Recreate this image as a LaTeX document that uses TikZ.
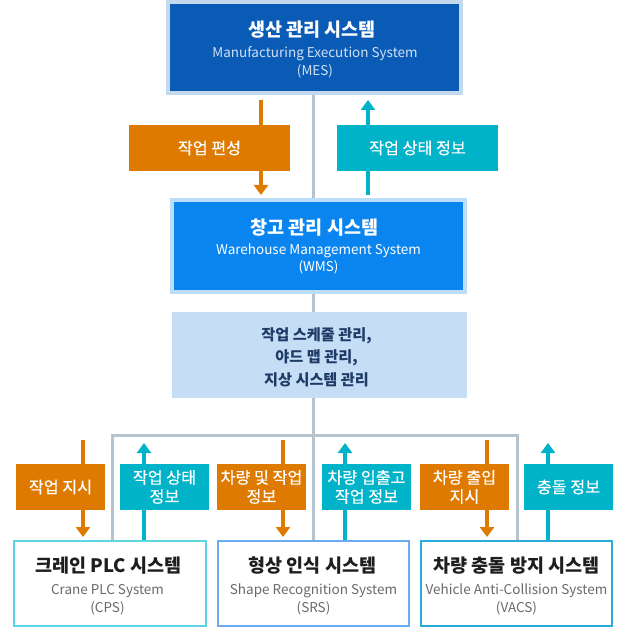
\documentclass[tikz,border=0pt]{standalone}
\usepackage{fontspec}
\setmainfont{Noto Sans CJK KR}
\usetikzlibrary{arrows.meta}
\definecolor{mesblue}{HTML}{0A5BB5}
\definecolor{mesedge}{HTML}{C5D9EC}
\definecolor{messub}{HTML}{CFE0F4}
\definecolor{wmsblue}{HTML}{0A85F0}
\definecolor{wmsedge}{HTML}{BCDDF8}
\definecolor{lightbox}{HTML}{C5DEF5}
\definecolor{navy}{HTML}{1E3A66}
\definecolor{orangeA}{HTML}{DF7A00}
\definecolor{tealA}{HTML}{00B3C9}
\definecolor{busgray}{HTML}{B5C3CE}
\definecolor{cpsedge}{HTML}{5CD6E2}
\definecolor{srsedge}{HTML}{6AABF2}
\definecolor{vacsedge}{HTML}{2AABDA}
\definecolor{subgray}{HTML}{6A6A6A}
\definecolor{ttlblack}{HTML}{1E1E1E}
\begin{document}
\begin{tikzpicture}[x=1pt,y=-1pt,
  sysbox/.style={rectangle,inner sep=0pt,minimum width=#1},
  topbox/.style={sysbox=293pt,minimum height=91pt,line width=4pt},
  botbox/.style={sysbox=191pt,minimum height=85pt,line width=2.5pt,draw,fill=white},
  lbl/.style={rectangle,inner sep=0pt,minimum height=46pt,text=white,align=center,
    font=\fontsize{16.2}{19}\selectfont\addfontfeature{FakeBold=0.4}},
  olbl/.style={lbl,fill=orangeA},
  tlbl/.style={lbl,fill=tealA},
  ttl/.style={anchor=base,font=\fontsize{18.5}{20}\selectfont\bfseries},
  sub/.style={anchor=base,font=\fontsize{13.5}{16}\selectfont},
  mline/.style={anchor=base,text=navy,font=\fontsize{15.2}{20}\selectfont\bfseries},
  bus/.style={draw=busgray,line width=3pt},
  oarr/.style={draw=orangeA,line width=4pt,-{Triangle[width=14pt,length=10pt]}},
  tarr/.style={draw=tealA,line width=4pt,-{Triangle[width=14pt,length=10pt]}},
]
\useasboundingbox (0,0) rectangle (628,628);

% bus lines
\coordinate (busL) at (112.5,435);
\coordinate (busR) at (517,435);
\coordinate (busLb) at (112.5,541);
\coordinate (busRb) at (517,541);
\coordinate (midtop) at (313,93);
\coordinate (midbot) at (313,541);
\draw[bus] (midtop) -- (midbot);
\draw[bus] (busLb) -- (busL) -- (busR) -- (busRb);

% arrow end points
\coordinate (a1s) at (261,100);  \coordinate (a1e) at (261,195);
\coordinate (a2s) at (368,195);  \coordinate (a2e) at (368,100);
\coordinate (b1s) at (83,440);   \coordinate (b1e) at (83,537);
\coordinate (b2s) at (144,540);  \coordinate (b2e) at (144,443);
\coordinate (b3s) at (283,440);  \coordinate (b3e) at (283,537);
\coordinate (b4s) at (345,540);  \coordinate (b4e) at (345,443);
\coordinate (b5s) at (487,440);  \coordinate (b5e) at (487,537);
\coordinate (b6s) at (548,540);  \coordinate (b6e) at (548,443);
\draw[oarr] (a1s) -- (a1e);
\draw[tarr] (a2s) -- (a2e);
\draw[oarr] (b1s) -- (b1e);
\draw[tarr] (b2s) -- (b2e);
\draw[oarr] (b3s) -- (b3e);
\draw[tarr] (b4s) -- (b4e);
\draw[oarr] (b5s) -- (b5e);
\draw[tarr] (b6s) -- (b6e);

% top systems
\node[topbox,draw=mesedge,fill=mesblue] (mes) at (314.5,47.5) {};
\node[ttl,text=white] (mest) at (312,37) {생산 관리 시스템};
\node[sub,text=messub] (mess) at (315,58) {Manufacturing Execution System};
\node[sub,text=messub] (mesa) at (315,76) {(MES)};

\node[topbox,draw=wmsedge,fill=wmsblue] (wms) at (318.5,246) {};
\node[ttl,text=white] (wmst) at (314.5,234) {창고 관리 시스템};
\node[sub,text=white] (wmss) at (318.5,254.5) {Warehouse Management System};
\node[sub,text=white] (wmsa) at (318.5,271.5) {(WMS)};

\node[rectangle,fill=lightbox,minimum width=295pt,minimum height=86pt,inner sep=0pt] (mgmt) at (319.5,355) {};
\node[mline] (m1) at (316.5,340) {작업 스케줄 관리,};
\node[mline] (m2) at (316.5,362.5) {야드 맵 관리,};
\node[mline] (m3) at (316.5,385) {지상 시스템 관리};

% label boxes (top)
\node[olbl,minimum width=161pt] (l1) at (209.5,148) {작업 편성};
\node[tlbl,minimum width=161pt] (l2) at (417.5,148) {작업 상태 정보};

% label boxes (bottom)
\node[olbl,minimum width=89pt] (k1) at (60.5,487) {작업 지시};
\node[tlbl,minimum width=89pt] (k2) at (164.5,487) {작업 상태\\정보};
\node[olbl,minimum width=89pt] (k3) at (261.5,487) {차량 및 작업\\정보};
\node[tlbl,minimum width=89pt] (k4) at (366.5,487) {차량 입출고\\작업 정보};
\node[olbl,minimum width=89pt] (k5) at (464.5,487) {차량 출입\\지시};
\node[tlbl,minimum width=89pt] (k6) at (568.5,487) {충돌 정보};

% bottom systems
\node[botbox,draw=cpsedge,minimum width=192pt] (cps) at (110,583.5) {};
\node[ttl,text=ttlblack] (cpst) at (108.5,572) {크레인 PLC 시스템};
\node[sub,text=subgray] (cpss) at (107.5,594) {Crane PLC System};
\node[sub,text=subgray] (cpsa) at (107.5,612) {(CPS)};

\node[botbox,draw=srsedge] (srs) at (313.5,583.5) {};
\node[ttl,text=ttlblack] (srst) at (312.5,572) {형상 인식 시스템};
\node[sub,text=subgray] (srss) at (313.5,594) {Shape Recognition System};
\node[sub,text=subgray] (srsa) at (313.5,612) {(SRS)};

\node[botbox,draw=vacsedge] (vacs) at (516.5,583.5) {};
\node[ttl,text=ttlblack] (vacst) at (516.5,572) {차량 충돌 방지 시스템};
\node[sub,text=subgray] (vacss) at (516.5,594) {Vehicle Anti-Collision System};
\node[sub,text=subgray] (vacsa) at (516.5,612) {(VACS)};
\end{tikzpicture}
\end{document}
